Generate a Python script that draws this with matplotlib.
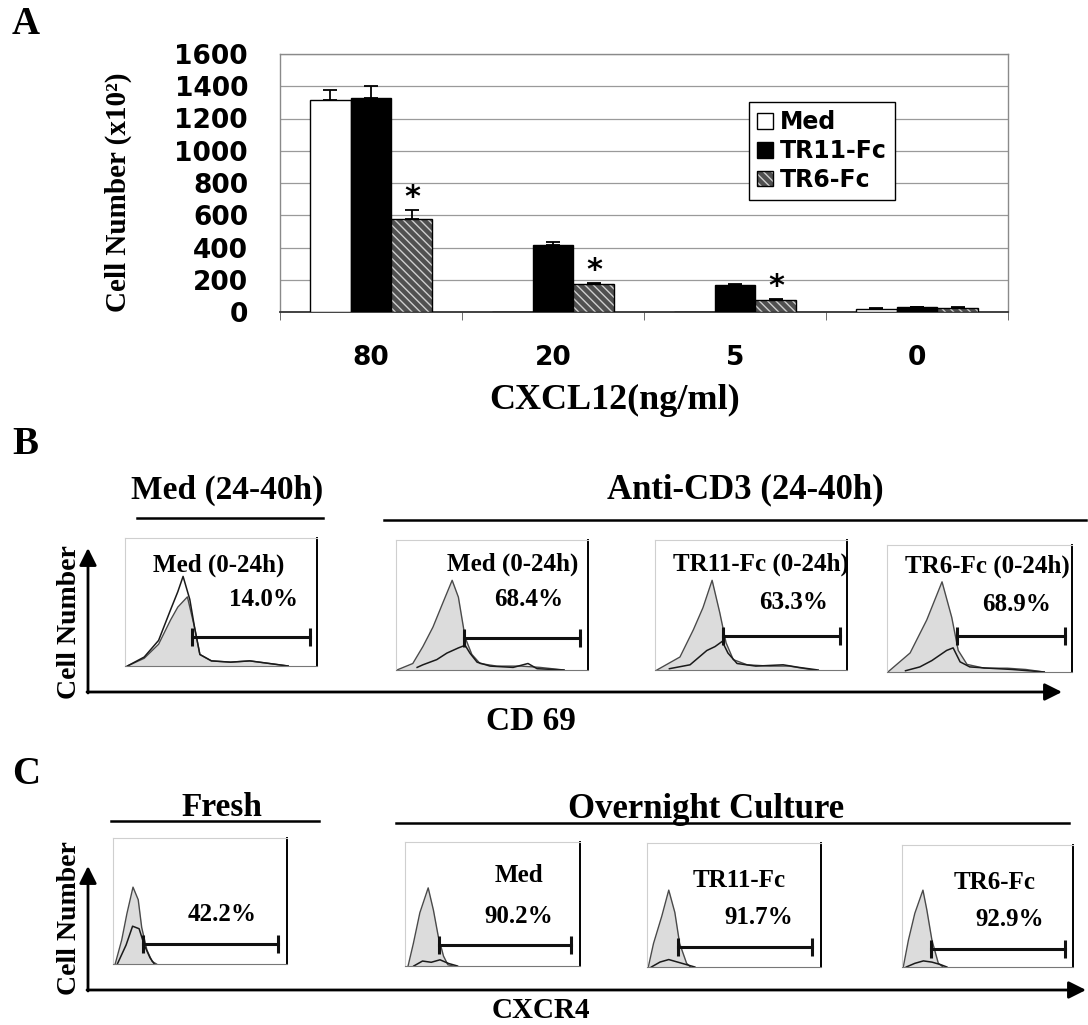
import matplotlib.pyplot as plt
from matplotlib.legend_handler import HandlerTuple

SERIF = 'Liberation Serif'
SANS = 'DejaVu Sans'

# ---- panel A: cell migration counts (x10^2) ----
doses = ['80', '20', '5', '0']
med = [1315, 0, 0, 20]
med_err = [62, 0, 0, 5]
tr11 = [1330, 415, 167, 28]
tr11_err = [70, 20, 8, 5]
tr6 = [577, 172, 74, 25]
tr6_err = [56, 10, 7, 5]
signif = [True, True, True, False]

# ---- panel B: CD69 histograms (x in log decades, y relative count) ----
b_titles = ['Med (0-24h)', 'Med (0-24h)', 'TR11-Fc (0-24h)', 'TR6-Fc (0-24h)']
b_pcts = ['14.0%', '68.4%', '63.3%', '68.9%']
b_fill_x = [[0.05, 0.4, 0.7, 0.95, 1.1, 1.3, 1.45, 1.56, 1.8, 2.2, 2.6, 3.0, 3.4],
            [0.02, 0.35, 0.56, 0.77, 0.98, 1.17, 1.3, 1.44, 1.58, 1.75, 2.1, 2.6, 3.0, 3.5],
            [0.04, 0.52, 0.8, 1.0, 1.19, 1.35, 1.48, 1.63, 1.92, 2.4, 2.8, 3.3],
            [0.02, 0.5, 0.86, 1.19, 1.4, 1.54, 1.73, 2.1, 2.6, 3.0, 3.4]]
b_fill_y = [[0.0, 0.06, 0.17, 0.36, 0.46, 0.54, 0.30, 0.09, 0.04, 0.03, 0.04, 0.02, 0.0],
            [0.0, 0.05, 0.18, 0.33, 0.52, 0.69, 0.56, 0.25, 0.12, 0.05, 0.03, 0.03, 0.02, 0.0],
            [0.0, 0.10, 0.31, 0.48, 0.69, 0.44, 0.21, 0.08, 0.04, 0.03, 0.03, 0.0],
            [0.0, 0.15, 0.41, 0.71, 0.43, 0.17, 0.06, 0.03, 0.03, 0.02, 0.0]]
b_line_x = [[0.05, 0.4, 0.7, 0.95, 1.1, 1.21, 1.35, 1.45, 1.56, 1.8, 2.2, 2.6, 3.0, 3.4],
            [0.44, 0.56, 0.85, 1.06, 1.3, 1.44, 1.54, 1.69, 1.96, 2.44, 2.75, 2.94, 3.5],
            [0.3, 0.73, 1.08, 1.25, 1.4, 1.52, 1.71, 2.1, 2.67, 3.0, 3.4],
            [0.4, 0.71, 0.97, 1.29, 1.43, 1.58, 1.79, 2.2, 2.7, 3.4]]
b_line_y = [[0.0, 0.07, 0.20, 0.44, 0.58, 0.70, 0.52, 0.30, 0.09, 0.04, 0.03, 0.04, 0.02, 0.0],
            [0.02, 0.04, 0.08, 0.13, 0.17, 0.19, 0.13, 0.06, 0.03, 0.02, 0.05, 0.01, 0.0],
            [0.01, 0.04, 0.15, 0.18, 0.22, 0.13, 0.05, 0.03, 0.04, 0.02, 0.0],
            [0.01, 0.04, 0.09, 0.17, 0.19, 0.08, 0.04, 0.03, 0.02, 0.0]]
b_gate_lo = [1.4, 1.42, 1.42, 1.51]
b_gate_hi = [3.85, 3.83, 3.85, 3.85]
b_gate_y = [0.23, 0.25, 0.26, 0.28]

# ---- panel C: CXCR4 histograms ----
c_titles = ['', 'Med', 'TR11-Fc', 'TR6-Fc']
c_pcts = ['42.2%', '90.2%', '91.7%', '92.9%']
c_fill_x = [[0.05, 0.2, 0.32, 0.46, 0.58, 0.66, 0.78, 0.9, 1.0],
            [0.07, 0.19, 0.34, 0.53, 0.65, 0.76, 0.88, 0.98, 1.1],
            [0.03, 0.15, 0.34, 0.5, 0.64, 0.75, 0.91, 1.0],
            [0.03, 0.15, 0.3, 0.49, 0.58, 0.7, 0.85, 0.96]]
c_fill_y = [[0.0, 0.19, 0.40, 0.61, 0.51, 0.29, 0.11, 0.02, 0.0],
            [0.0, 0.18, 0.43, 0.63, 0.45, 0.24, 0.08, 0.01, 0.0],
            [0.0, 0.19, 0.41, 0.62, 0.44, 0.19, 0.03, 0.0],
            [0.0, 0.22, 0.44, 0.63, 0.47, 0.22, 0.03, 0.0]]
c_line_x = [[0.1, 0.3, 0.45, 0.6, 0.72, 0.85, 0.95],
            [0.2, 0.4, 0.6, 0.8, 1.0, 1.2],
            [0.1, 0.3, 0.5, 0.7, 0.9, 1.1],
            [0.1, 0.3, 0.5, 0.7, 0.9, 1.05]]
c_line_y = [[0.0, 0.15, 0.30, 0.28, 0.15, 0.05, 0.0],
            [0.0, 0.04, 0.03, 0.05, 0.02, 0.0],
            [0.0, 0.04, 0.06, 0.04, 0.02, 0.0],
            [0.0, 0.03, 0.05, 0.04, 0.02, 0.0]]
c_gate_lo = [0.69, 0.78, 0.71, 0.68]
c_gate_hi = [3.79, 3.79, 3.79, 3.81]
c_gate_y = [0.16, 0.17, 0.16, 0.15]

W, H = 1088, 1025
fig = plt.figure(figsize=(W / 100, H / 100), dpi=100)


def px_box(l, t, r, b):
    return [l / W, 1 - b / H, (r - l) / W, (b - t) / H]


# overlay for free text, lines and arrows (pixel coordinates)
ov = fig.add_axes([0, 0, 1, 1], zorder=5)
ov.set_xlim(0, W)
ov.set_ylim(H, 0)
ov.axis('off')
ov.patch.set_alpha(0)

# ================= Panel A =================
ax = fig.add_axes(px_box(280, 54, 1008, 312))
w = 0.225
xs = range(len(doses))
ax.bar([x - w for x in xs], med, w, color='white', edgecolor='black', lw=1, zorder=3)
ax.bar(list(xs), tr11, w, color='black', edgecolor='black', lw=1, zorder=3)
h6 = ax.bar([x + w for x in xs], tr6, w, color='#505050', edgecolor='#cfcfcf',
            hatch='\\\\\\\\', lw=0, zorder=3)
o6 = ax.bar([x + w for x in xs], tr6, w, fill=False, edgecolor='black', lw=1, zorder=4)

for off, vals, errs in [(-w, med, med_err), (0, tr11, tr11_err), (w, tr6, tr6_err)]:
    px = [x + off for x, v in zip(xs, vals) if v > 0]
    pv = [v for v in vals if v > 0]
    pe = [e for v, e in zip(vals, errs) if v > 0]
    ax.errorbar(px, pv, yerr=[[0] * len(pe), pe], fmt='none', ecolor='black',
                elinewidth=1.3, capsize=5, capthick=1.3, zorder=5)

for x, v, e, s in zip(xs, tr6, tr6_err, signif):
    if s:
        ax.annotate('*', xy=(x + w, v + e), xytext=(0, 9), textcoords='offset points',
                    ha='center', va='center', fontsize=22, fontweight='bold', family=SANS)

ax.set_xlim(-0.5, 3.5)
ax.set_ylim(0, 1600)
ax.set_yticks(range(0, 1601, 200))
ax.set_xticks(list(xs))
ax.set_xticklabels(doses)
ax.set_xticks([-0.5, 0.5, 1.5, 2.5, 3.5], minor=True)
ax.tick_params(axis='x', which='major', length=0, pad=24)
ax.tick_params(axis='x', which='minor', length=6, color='#555555', direction='out')
ax.tick_params(axis='y', length=0, pad=23)
for lab in ax.get_xticklabels() + ax.get_yticklabels():
    lab.set_fontfamily(SANS)
    lab.set_fontweight('bold')
    lab.set_fontsize(19)
ax.yaxis.grid(True, color='#9a9a9a', lw=0.9)
ax.set_axisbelow(True)
for sp in ['left', 'right', 'top']:
    ax.spines[sp].set_color('#8a8a8a')
    ax.spines[sp].set_linewidth(1)
ax.spines['bottom'].set_color('#333333')
ax.spines['bottom'].set_linewidth(1.3)

leg = ax.legend([ax.containers[0][0], ax.containers[1][0], (h6[0], o6[0])],
                ['Med', 'TR11-Fc', 'TR6-Fc'],
                handler_map={tuple: HandlerTuple(ndivide=1)},
                loc='upper left', bbox_to_anchor=(749 / W, 1 - 102 / H),
                bbox_transform=fig.transFigure, prop={'family': SANS, 'weight': 'bold', 'size': 17},
                frameon=True, fancybox=False, edgecolor='black', framealpha=1,
                borderpad=0.35, handlelength=0.65, handleheight=0.65, handletextpad=0.3,
                labelspacing=0.2, borderaxespad=0)
leg.get_frame().set_linewidth(1)

ov.text(118, 192, 'Cell Number (x10²)', rotation=90, ha='center', va='center',
        family=SERIF, fontweight='bold', fontsize=21)
ov.text(615, 400, 'CXCL12(ng/ml)', ha='center', va='center',
        family=SERIF, fontweight='bold', fontsize=26)

# panel letters
for letter, y in [('A', 25), ('B', 445), ('C', 775)]:
    ov.text(12, y, letter, ha='left', va='center', family=SERIF, fontweight='bold', fontsize=28)


def draw_hist(rect, fx, fy, lx, ly, g0, g1, gy, title, title_xy, pct, pct_xy):
    a = fig.add_axes(px_box(*rect))
    a.fill_between(fx, fy, color='#dcdcdc', lw=0)
    a.plot(fx, fy, color='#4a4a4a', lw=1)
    a.plot(lx, ly, color='#1a1a1a', lw=1.1)
    a.plot([g0, g1], [gy, gy], color='#111111', lw=2.2, marker='|', ms=13, mew=2.2)
    a.set_xlim(0, 4)
    a.set_ylim(0, 1)
    a.set_xticks([])
    a.set_yticks([])
    a.spines['top'].set_color('#cfcfcf')
    a.spines['left'].set_color('#cfcfcf')
    a.spines['right'].set_color('black')
    a.spines['right'].set_linewidth(1.4)
    a.spines['bottom'].set_color('#777777')
    if title:
        a.text(*title_xy, title, transform=a.transAxes, ha='center', va='center',
               family=SERIF, fontweight='bold', fontsize=18, clip_on=False)
    a.text(*pct_xy, pct, transform=a.transAxes, ha='center', va='center',
           family=SERIF, fontweight='bold', fontsize=18)


# ================= Panel B =================
b_rects = [(125, 538, 317, 666), (396, 540, 588, 670), (655, 540, 847, 670), (887, 545, 1072, 672)]
b_title_xy = [(0.49, 0.79), (0.61, 0.81), (0.55, 0.81), (0.54, 0.83)]
b_pct_xy = [(0.72, 0.52), (0.69, 0.54), (0.72, 0.52), (0.70, 0.53)]
for i in range(4):
    draw_hist(b_rects[i], b_fill_x[i], b_fill_y[i], b_line_x[i], b_line_y[i],
              b_gate_lo[i], b_gate_hi[i], b_gate_y[i], b_titles[i], b_title_xy[i],
              b_pcts[i], b_pct_xy[i])

ov.text(227, 490, 'Med (24-40h)', ha='center', va='center', family=SERIF, fontweight='bold', fontsize=24)
ov.text(745, 490, 'Anti-CD3 (24-40h)', ha='center', va='center', family=SERIF, fontweight='bold', fontsize=25)
ov.plot([137, 323], [518, 518], color='black', lw=1.8)
ov.plot([384, 1086], [520, 520], color='black', lw=1.8)
arrow = dict(arrowstyle='-|>', lw=2, color='black', mutation_scale=26, shrinkA=0, shrinkB=0)
ov.annotate('', xy=(88, 548), xytext=(88, 693), arrowprops=arrow)
ov.annotate('', xy=(1062, 692), xytext=(87, 692), arrowprops=arrow)
ov.text(70, 622, 'Cell Number', rotation=90, ha='center', va='center',
        family=SERIF, fontweight='bold', fontsize=20)
ov.text(531, 722, 'CD 69', ha='center', va='center', family=SERIF, fontweight='bold', fontsize=24)

# ================= Panel C =================
c_rects = [(113, 838, 287, 964), (405, 842, 580, 966), (647, 843, 821, 967), (902, 845, 1073, 967)]
c_title_xy = [(0.5, 0.7), (0.65, 0.73), (0.53, 0.70), (0.54, 0.69)]
c_pct_xy = [(0.63, 0.39), (0.65, 0.40), (0.64, 0.40), (0.63, 0.39)]
for i in range(4):
    draw_hist(c_rects[i], c_fill_x[i], c_fill_y[i], c_line_x[i], c_line_y[i],
              c_gate_lo[i], c_gate_hi[i], c_gate_y[i], c_titles[i], c_title_xy[i],
              c_pcts[i], c_pct_xy[i])

ov.text(222, 807, 'Fresh', ha='center', va='center', family=SERIF, fontweight='bold', fontsize=24)
ov.text(706, 810, 'Overnight Culture', ha='center', va='center', family=SERIF, fontweight='bold', fontsize=25)
ov.plot([111, 319], [821, 821], color='black', lw=1.8)
ov.plot([396, 1069], [823, 823], color='black', lw=1.8)
ov.annotate('', xy=(88, 866), xytext=(88, 991), arrowprops=arrow)
ov.annotate('', xy=(1086, 990), xytext=(87, 990), arrowprops=arrow)
ov.text(70, 918, 'Cell Number', rotation=90, ha='center', va='center',
        family=SERIF, fontweight='bold', fontsize=20)
ov.text(541, 1010, 'CXCR4', ha='center', va='center', family=SERIF, fontweight='bold', fontsize=21)

fig.savefig('out.png', dpi=100)
